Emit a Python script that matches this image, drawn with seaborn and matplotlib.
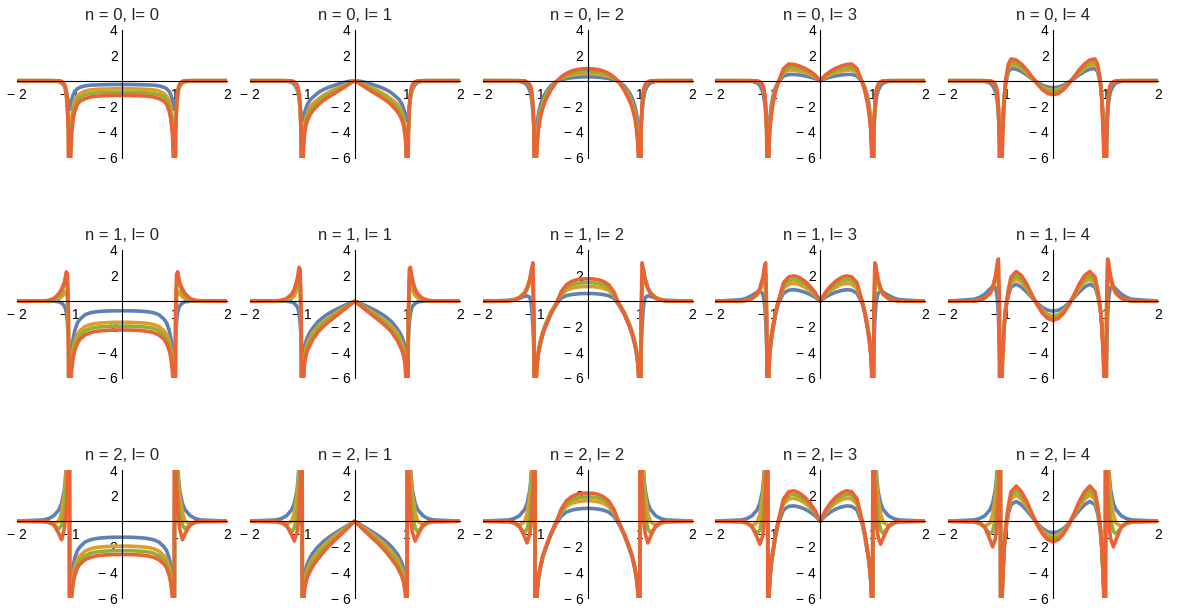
import numpy as np
import seaborn as sns
import matplotlib.pyplot as plt
from matplotlib.ticker import MultipleLocator, FuncFormatter

# x >= 0 sample points; curves are mirrored to x < 0
X_HALF = [0, 0.1, 0.2, 0.3, 0.4, 0.5, 0.6, 0.7, 0.8, 0.85, 0.9, 0.93, 0.96, 0.98, 0.99,
          1.01, 1.02, 1.04, 1.06, 1.08, 1.1, 1.15, 1.2, 1.3, 1.4, 1.5, 2.0]

n_values = [0, 1, 2]
l_values = [0, 1, 2, 3, 4]
colors = ["#5E81B5", "#E19C24", "#8FB032", "#EB6235"]

# each panel: [blue, orange, green, red]
V_n0_l0 = [
    [-0.3, -0.3, -0.3, -0.31, -0.32, -0.33, -0.35, -0.4, -0.52, -0.63, -0.85, -1.1, -1.5, -1.95, -2.25,
     -2.2, -1.9, -1.3, -0.9, -0.6, -0.4, -0.18, -0.08, -0.02, 0, 0, 0],
    [-0.63, -0.63, -0.64, -0.65, -0.66, -0.68, -0.72, -0.8, -1.0, -1.2, -1.6, -2.0, -3.0, -4.5, -12,
     -12, -4.0, -2.2, -1.2, -0.7, -0.4, -0.12, -0.04, 0, 0, 0, 0],
    [-0.9, -0.9, -0.91, -0.92, -0.94, -0.96, -1.0, -1.1, -1.3, -1.5, -2.0, -2.5, -3.6, -5.2, -12,
     -12, -4.0, -2.0, -1.0, -0.55, -0.3, -0.08, -0.02, 0, 0, 0, 0],
    [-1.15, -1.15, -1.16, -1.17, -1.19, -1.22, -1.27, -1.4, -1.6, -1.85, -2.4, -3.0, -4.2, -6, -12,
     -12, -4.0, -1.8, -0.9, -0.45, -0.25, -0.05, 0, 0, 0, 0, 0],
]
V_n0_l1 = [
    [0, -0.04, -0.13, -0.25, -0.38, -0.52, -0.7, -0.95, -1.3, -1.5, -1.85, -2.15, -2.6, -2.95, -3.1,
     -3.0, -2.7, -2.0, -1.4, -0.95, -0.65, -0.3, -0.12, -0.03, 0, 0, 0],
    [0, -0.17, -0.35, -0.52, -0.7, -0.9, -1.15, -1.45, -1.8, -2.05, -2.5, -2.9, -3.6, -4.6, -12,
     -12, -4.5, -2.3, -1.3, -0.75, -0.45, -0.15, -0.05, 0, 0, 0, 0],
    [0, -0.2, -0.42, -0.63, -0.85, -1.07, -1.32, -1.65, -2.05, -2.3, -2.75, -3.15, -3.9, -5.0, -12,
     -12, -4.3, -2.1, -1.15, -0.65, -0.38, -0.12, -0.04, 0, 0, 0, 0],
    [0, -0.25, -0.52, -0.78, -1.03, -1.28, -1.55, -1.9, -2.35, -2.65, -3.1, -3.5, -4.3, -5.4, -12,
     -12, -4.0, -1.9, -1.0, -0.55, -0.3, -0.08, -0.02, 0, 0, 0, 0],
]
V_n0_l2 = [
    [0.3, 0.3, 0.27, 0.23, 0.17, 0.08, -0.08, -0.4, -0.95, -1.35, -1.95, -2.5, -3.3, -3.75, -3.9,
     -3.8, -3.4, -2.4, -1.6, -1.1, -0.75, -0.35, -0.17, -0.05, -0.01, 0, 0],
    [0.55, 0.54, 0.5, 0.44, 0.34, 0.18, -0.1, -0.55, -1.2, -1.7, -2.4, -3.1, -4.3, -6.0, -12,
     -12, -3.8, -2.0, -1.1, -0.65, -0.4, -0.13, -0.04, 0, 0, 0, 0],
    [0.72, 0.71, 0.66, 0.58, 0.45, 0.24, -0.1, -0.65, -1.35, -1.9, -2.65, -3.4, -4.7, -6.5, -12,
     -12, -3.8, -1.9, -1.0, -0.58, -0.35, -0.1, -0.03, 0, 0, 0, 0],
    [0.95, 0.93, 0.87, 0.76, 0.58, 0.3, -0.12, -0.75, -1.55, -2.1, -2.9, -3.7, -5.0, -7, -12,
     -12, -3.8, -1.8, -0.95, -0.5, -0.3, -0.08, -0.02, 0, 0, 0, 0],
]
V_n0_l3 = [
    [0, 0.17, 0.29, 0.38, 0.45, 0.49, 0.49, 0.36, -0.1, -0.5, -1.2, -1.85, -2.9, -3.7, -4.0,
     -3.9, -3.5, -2.5, -1.7, -1.15, -0.8, -0.38, -0.18, -0.05, -0.01, 0, 0],
    [0, 0.29, 0.49, 0.64, 0.75, 0.82, 0.84, 0.62, -0.1, -0.62, -1.45, -2.2, -3.4, -5.0, -12,
     -12, -4.0, -2.1, -1.15, -0.68, -0.4, -0.13, -0.04, 0, 0, 0, 0],
    [0, 0.36, 0.6, 0.79, 0.93, 1.02, 1.04, 0.76, -0.12, -0.7, -1.6, -2.4, -3.6, -5.3, -12,
     -12, -4.0, -2.0, -1.05, -0.6, -0.35, -0.1, -0.03, 0, 0, 0, 0],
    [0, 0.45, 0.75, 0.98, 1.15, 1.27, 1.3, 0.95, -0.15, -0.8, -1.8, -2.6, -3.8, -5.5, -12,
     -12, -4.0, -1.9, -1.0, -0.55, -0.3, -0.08, -0.02, 0, 0, 0, 0],
]
V_n0_l4 = [
    [-0.55, -0.5, -0.35, -0.12, 0.15, 0.45, 0.72, 0.9, 0.95, 0.7, -0.2, -1.2, -3.0, -4.4, -4.8,
     -4.6, -4.0, -2.6, -1.7, -1.15, -0.8, -0.38, -0.18, -0.05, -0.01, 0, 0],
    [-0.75, -0.68, -0.48, -0.17, 0.21, 0.6, 0.95, 1.18, 1.25, 0.95, -0.05, -1.3, -3.7, -6.5, -14,
     -14, -5, -2.2, -1.1, -0.6, -0.36, -0.11, -0.04, 0, 0, 0, 0],
    [-0.9, -0.82, -0.57, -0.2, 0.25, 0.7, 1.1, 1.37, 1.45, 1.1, 0.0, -1.4, -4.0, -7, -14,
     -14, -5, -2.1, -1.05, -0.55, -0.32, -0.09, -0.03, 0, 0, 0, 0],
    [-1.1, -1.0, -0.7, -0.25, 0.3, 0.85, 1.3, 1.62, 1.7, 1.3, 0.05, -1.6, -4.5, -8, -14,
     -14, -5, -2.0, -1.0, -0.5, -0.28, -0.07, -0.02, 0, 0, 0, 0],
]
V_n1_l0 = [
    [-0.75, -0.75, -0.76, -0.77, -0.79, -0.83, -0.9, -1.05, -1.4, -1.7, -2.3, -2.9, -3.8, -4.6, -5.0,
     -4.0, -3.0, -1.6, -0.9, -0.55, -0.35, -0.15, -0.05, 0, 0, 0, 0],
    [-1.65, -1.65, -1.66, -1.68, -1.7, -1.74, -1.82, -1.97, -2.3, -2.6, -3.15, -3.7, -4.7, -6, -14,
     -14, -3.0, 0.2, 0.8, 0.75, 0.6, 0.35, 0.2, 0.07, 0.02, 0, 0],
    [-1.95, -1.95, -1.96, -1.98, -2.0, -2.05, -2.13, -2.3, -2.63, -2.95, -3.5, -4.1, -5.1, -6.5, -14,
     -14, -1.5, 1.4, 1.95, 1.6, 1.25, 0.7, 0.4, 0.13, 0.04, 0.01, 0],
    [-2.25, -2.25, -2.26, -2.28, -2.31, -2.36, -2.45, -2.63, -2.98, -3.3, -3.85, -4.4, -5.4, -7, -14,
     -14, -1.0, 2.1, 2.3, 1.85, 1.45, 0.95, 0.6, 0.2, 0.07, 0.02, 0],
]
V_n1_l1 = [
    [0, -0.16, -0.34, -0.53, -0.74, -0.97, -1.25, -1.6, -2.1, -2.4, -2.8, -3.15, -3.65, -4.2, -4.5,
     -4.0, -3.0, -1.7, -1.0, -0.6, -0.4, -0.17, -0.06, 0, 0, 0, 0],
    [0, -0.25, -0.5, -0.76, -1.02, -1.3, -1.6, -1.95, -2.45, -2.85, -3.3, -3.7, -4.4, -5.6, -14,
     -14, -2.5, 0.7, 1.3, 1.1, 0.85, 0.45, 0.25, 0.08, 0.02, 0, 0],
    [0, -0.28, -0.56, -0.85, -1.13, -1.43, -1.76, -2.15, -2.7, -3.1, -3.55, -3.95, -4.7, -6.0, -14,
     -14, -1.5, 1.6, 2.3, 1.9, 1.5, 0.85, 0.48, 0.17, 0.05, 0.01, 0],
    [0, -0.33, -0.65, -0.98, -1.3, -1.63, -1.98, -2.4, -3.0, -3.4, -3.85, -4.25, -5.0, -6.5, -14,
     -14, -1.0, 2.5, 2.65, 2.1, 1.65, 0.95, 0.55, 0.2, 0.07, 0.02, 0],
]
V_n1_l2 = [
    [0.6, 0.6, 0.57, 0.52, 0.44, 0.25, -0.3, -1.0, -2.0, -2.6, -3.4, -4.0, -4.8, -5.2, -5.3,
     -5.0, -4.0, -2.0, -0.7, 0.0, 0.3, 0.42, 0.38, 0.24, 0.13, 0.07, 0],
    [1.15, 1.14, 1.1, 1.01, 0.85, 0.49, -0.2, -0.85, -1.8, -2.35, -3.15, -3.75, -4.8, -6.2, -14,
     -14, -3.0, 0.8, 1.9, 1.8, 1.5, 1.0, 0.65, 0.3, 0.12, 0.04, 0],
    [1.45, 1.44, 1.39, 1.28, 1.07, 0.62, -0.22, -0.9, -1.85, -2.4, -3.2, -3.8, -4.9, -6.3, -14,
     -14, -2.0, 1.8, 2.5, 2.1, 1.7, 1.05, 0.65, 0.27, 0.1, 0.03, 0],
    [1.75, 1.74, 1.68, 1.55, 1.3, 0.75, -0.25, -1.0, -1.95, -2.5, -3.3, -3.9, -5.0, -6.5, -14,
     -14, -1.0, 3.0, 2.6, 2.1, 1.7, 1.0, 0.6, 0.22, 0.08, 0.02, 0],
]
V_n1_l3 = [
    [0, 0.32, 0.54, 0.71, 0.83, 0.9, 0.86, 0.62, -0.2, -1.0, -2.2, -3.0, -4.0, -4.6, -4.8,
     -4.5, -3.5, -1.5, -0.3, 0.3, 0.6, 0.8, 0.7, 0.45, 0.25, 0.12, 0],
    [0, 0.5, 0.84, 1.1, 1.3, 1.39, 1.33, 1.0, -0.05, -0.8, -1.9, -2.7, -3.9, -5.4, -14,
     -14, -2.5, 0.8, 1.6, 1.6, 1.35, 0.85, 0.5, 0.2, 0.07, 0.02, 0],
    [0, 0.6, 1.02, 1.34, 1.57, 1.68, 1.62, 1.22, -0.05, -0.85, -1.95, -2.75, -4.0, -5.5, -14,
     -14, -1.5, 2.0, 2.4, 2.0, 1.6, 0.95, 0.55, 0.2, 0.07, 0.02, 0],
    [0, 0.7, 1.2, 1.58, 1.85, 1.98, 1.9, 1.45, -0.05, -0.9, -2.0, -2.8, -4.0, -5.5, -14,
     -14, -1.0, 3.0, 2.8, 2.2, 1.75, 1.0, 0.6, 0.22, 0.08, 0.02, 0],
]
V_n1_l4 = [
    [-0.78, -0.7, -0.5, -0.15, 0.27, 0.72, 1.1, 1.33, 1.1, 0.45, -0.6, -1.8, -3.8, -5.2, -5.6,
     -5.2, -4.0, -1.2, 0.2, 0.8, 1.1, 1.15, 0.95, 0.55, 0.3, 0.15, 0.01],
    [-1.15, -1.03, -0.73, -0.23, 0.37, 1.0, 1.48, 1.73, 1.42, 0.65, -0.5, -1.85, -4.2, -6.6, -14,
     -14, -2.0, 1.6, 2.1, 1.9, 1.6, 1.0, 0.6, 0.24, 0.09, 0.03, 0],
    [-1.35, -1.2, -0.85, -0.27, 0.42, 1.15, 1.7, 1.98, 1.62, 0.75, -0.5, -1.9, -4.3, -6.8, -14,
     -14, -1.2, 2.6, 2.6, 2.15, 1.75, 1.05, 0.62, 0.24, 0.09, 0.03, 0],
    [-1.5, -1.35, -0.95, -0.3, 0.5, 1.35, 2.0, 2.32, 1.9, 0.9, -0.5, -2.0, -4.5, -7, -14,
     -14, -0.5, 3.3, 3.0, 2.4, 1.9, 1.1, 0.65, 0.25, 0.09, 0.03, 0],
]
V_n2_l0 = [
    [-1.25, -1.25, -1.26, -1.28, -1.31, -1.36, -1.45, -1.62, -2.0, -2.3, -2.9, -3.5, -4.6, -6.2, -30,
     30, 12, 7, 4.5, 3.2, 2.4, 1.4, 0.9, 0.42, 0.2, 0.1, 0.01],
    [-1.95, -1.95, -1.96, -1.98, -2.01, -2.06, -2.15, -2.33, -2.7, -3.0, -3.6, -4.2, -5.3, -6.8, -30,
     30, 10, 6, 4.0, 2.8, 2.0, 0.7, 0.0, -0.2, -0.1, -0.04, 0],
    [-2.3, -2.3, -2.31, -2.33, -2.36, -2.41, -2.5, -2.7, -3.05, -3.35, -3.95, -4.55, -5.6, -7.0, -30,
     30, 8, 4.5, 2.8, 1.6, 0.8, -0.3, -0.6, -0.3, -0.08, -0.02, 0],
    [-2.6, -2.6, -2.61, -2.63, -2.66, -2.72, -2.82, -3.0, -3.35, -3.65, -4.25, -4.85, -5.9, -7.3, -30,
     30, 5, 2.5, 1.0, 0.0, -0.6, -1.45, -1.0, -0.25, -0.05, -0.01, 0],
]
V_n2_l1 = [
    [0, -0.24, -0.49, -0.74, -1.0, -1.28, -1.6, -2.0, -2.5, -2.85, -3.3, -3.7, -4.4, -5.5, -30,
     30, 12, 7, 4.5, 3.2, 2.4, 1.4, 0.9, 0.42, 0.2, 0.1, 0.01],
    [0, -0.3, -0.6, -0.9, -1.2, -1.55, -1.93, -2.4, -2.9, -3.3, -3.75, -4.2, -4.9, -6.0, -30,
     30, 10, 6, 4, 2.8, 2.0, 0.7, 0.0, -0.25, -0.12, -0.05, 0],
    [0, -0.35, -0.7, -1.04, -1.38, -1.75, -2.17, -2.65, -3.2, -3.6, -4.05, -4.5, -5.2, -6.3, -30,
     30, 8, 4.5, 2.8, 1.5, 0.6, -0.5, -0.85, -0.4, -0.12, -0.03, 0],
    [0, -0.4, -0.8, -1.18, -1.56, -1.97, -2.42, -2.95, -3.5, -3.9, -4.35, -4.8, -5.5, -6.6, -30,
     30, 5, 2.3, 0.7, -0.3, -0.9, -1.55, -1.1, -0.3, -0.07, -0.01, 0],
]
V_n2_l2 = [
    [1.0, 0.99, 0.95, 0.87, 0.72, 0.4, -0.25, -1.1, -2.2, -2.8, -3.7, -4.4, -5.5, -7, -30,
     30, 12, 7, 4.5, 3.2, 2.4, 1.4, 0.9, 0.42, 0.2, 0.1, 0.01],
    [1.6, 1.58, 1.52, 1.4, 1.16, 0.68, -0.14, -1.0, -2.1, -2.7, -3.6, -4.3, -5.4, -7, -30,
     30, 10, 6, 4, 2.8, 2.0, 0.6, -0.05, -0.3, -0.15, -0.06, 0],
    [1.9, 1.88, 1.81, 1.66, 1.38, 0.82, -0.12, -1.0, -2.1, -2.7, -3.6, -4.3, -5.4, -7, -30,
     30, 8, 4.5, 2.7, 1.4, 0.5, -0.6, -0.9, -0.45, -0.13, -0.03, 0],
    [2.2, 2.18, 2.1, 1.92, 1.6, 0.95, -0.1, -1.0, -2.1, -2.7, -3.6, -4.3, -5.4, -7, -30,
     30, 5, 2.3, 0.6, -0.4, -1.0, -1.7, -1.2, -0.35, -0.08, -0.02, 0],
]
V_n2_l3 = [
    [0, 0.43, 0.73, 0.96, 1.11, 1.2, 1.16, 0.88, -0.2, -1.2, -2.5, -3.3, -4.6, -6.2, -30,
     30, 12, 7, 4.5, 3.2, 2.4, 1.4, 0.9, 0.42, 0.2, 0.1, 0.01],
    [0, 0.64, 1.1, 1.44, 1.67, 1.8, 1.74, 1.33, -0.05, -1.0, -2.3, -3.1, -4.4, -6, -30,
     30, 10, 6, 4, 2.7, 1.9, 0.55, -0.1, -0.35, -0.17, -0.06, 0],
    [0, 0.75, 1.28, 1.68, 1.95, 2.1, 2.03, 1.55, -0.05, -1.0, -2.3, -3.1, -4.4, -6, -30,
     30, 8, 4.5, 2.6, 1.3, 0.4, -0.7, -0.95, -0.45, -0.13, -0.03, 0],
    [0, 0.85, 1.45, 1.9, 2.2, 2.38, 2.3, 1.75, 0.0, -1.0, -2.3, -3.1, -4.4, -6, -30,
     30, 5, 2.3, 0.5, -0.6, -1.2, -1.8, -1.3, -0.4, -0.1, -0.02, 0],
]
V_n2_l4 = [
    [-0.9, -0.82, -0.57, -0.17, 0.33, 0.85, 1.28, 1.55, 1.3, 0.6, -0.7, -2.2, -4.8, -7, -30,
     30, 12, 7, 4.5, 3.2, 2.4, 1.4, 0.9, 0.42, 0.2, 0.1, 0.01],
    [-1.2, -1.09, -0.75, -0.22, 0.45, 1.15, 1.7, 2.05, 1.72, 0.9, -0.5, -2.0, -4.6, -7, -30,
     30, 10, 6, 4, 2.6, 1.8, 0.5, -0.15, -0.4, -0.2, -0.07, 0],
    [-1.4, -1.27, -0.88, -0.26, 0.52, 1.35, 2.0, 2.4, 2.0, 1.05, -0.45, -2.0, -4.6, -7, -30,
     30, 8, 4.2, 2.4, 1.1, 0.2, -0.8, -1.0, -0.5, -0.15, -0.04, 0],
    [-1.6, -1.45, -1.0, -0.3, 0.6, 1.55, 2.3, 2.75, 2.3, 1.2, -0.4, -2.0, -4.6, -7, -30,
     30, 5, 2.0, 0.3, -0.8, -1.4, -2.0, -1.45, -0.45, -0.12, -0.03, 0],
]

panels = [
    [V_n0_l0, V_n0_l1, V_n0_l2, V_n0_l3, V_n0_l4],
    [V_n1_l0, V_n1_l1, V_n1_l2, V_n1_l3, V_n1_l4],
    [V_n2_l0, V_n2_l1, V_n2_l2, V_n2_l3, V_n2_l4],
]

sns.set_style("white")
plt.rcParams['font.family'] = ['Liberation Sans', 'DejaVu Sans']

W, H = 1187, 611
fig = plt.figure(figsize=(W / 100, H / 100), dpi=100)

xh = np.array(X_HALF)
x_full = np.concatenate([-xh[::-1], xh[1:]])

col_left = [17, 249.75, 482.5, 715.25, 948]
row_top = [29.5, 250, 470]
ax_w, ax_h = 210, 128

# Mathematica style minus with a gap
tick_fmt = FuncFormatter(lambda v, p: f"\u2212 {abs(v):g}" if v < 0 else f"{v:g}")

for r, n in enumerate(n_values):
    for c, l in enumerate(l_values):
        ax = fig.add_axes([col_left[c] / W, 1 - (row_top[r] + ax_h) / H, ax_w / W, ax_h / H])
        for vals, col in zip(panels[r][c], colors):
            v = np.array(vals)
            y_full = np.concatenate([v[::-1], v[1:]])
            sns.lineplot(x=x_full, y=y_full, ax=ax, color=col, lw=2.6,
                         sort=False, estimator=None)
        ax.set_xlim(-2, 2)
        ax.set_ylim(-6, 4)
        ax.spines['left'].set_position('zero')
        ax.spines['bottom'].set_position('zero')
        ax.spines['top'].set_visible(False)
        ax.spines['right'].set_visible(False)
        for s in ['left', 'bottom']:
            ax.spines[s].set_color('black')
            ax.spines[s].set_linewidth(0.8)
        ax.set_xticks([-2, -1, 1, 2])
        ax.set_yticks([-6, -4, -2, 2, 4])
        ax.xaxis.set_major_formatter(tick_fmt)
        ax.yaxis.set_major_formatter(tick_fmt)
        ax.xaxis.set_minor_locator(MultipleLocator(0.2))
        ax.yaxis.set_minor_locator(MultipleLocator(0.5))
        ax.tick_params(which='major', direction='in', length=4, width=0.7,
                       colors='black', labelsize=10)
        ax.tick_params(axis='x', which='major', pad=5)
        ax.tick_params(axis='y', which='major', pad=3)
        ax.tick_params(which='minor', direction='in', length=2, width=0.6, colors='black')
        ax.set_xlabel('')
        ax.set_ylabel('')
        ax.set_title(f"n = {n}, l= {l}", fontsize=12, pad=7)

fig.savefig("out.png", dpi=100)
